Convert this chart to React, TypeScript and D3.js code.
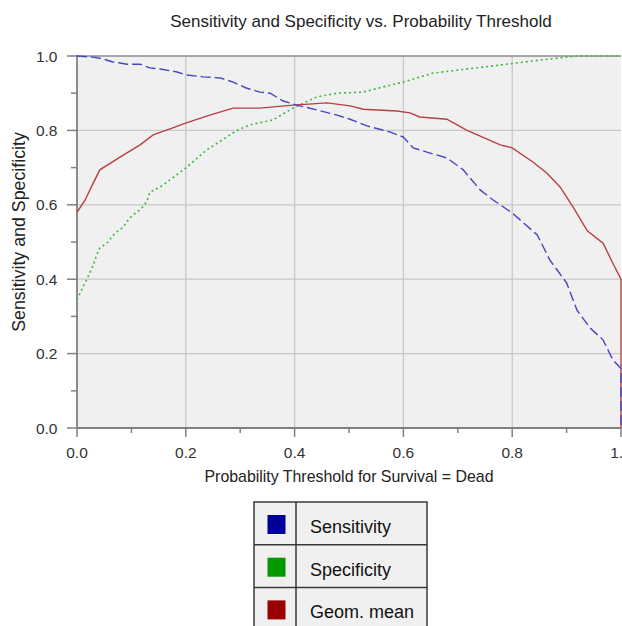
import React from "react";
import * as d3 from "d3";

const title = "Sensitivity and Specificity vs. Probability Threshold";
const xTitle = "Probability Threshold for Survival = Dead";
const yTitle = "Sensitivity and Specificity";
const tickLabels = ["0.0", "0.2", "0.4", "0.6", "0.8", "1.0"];
const majorTicks = [0, 0.2, 0.4, 0.6, 0.8, 1.0];
const minorTicks = [0.1, 0.3, 0.5, 0.7, 0.9];

const sensT = [0, 0.03, 0.048, 0.066, 0.092, 0.116, 0.134, 0.153, 0.184, 0.201, 0.232, 0.263, 0.287, 0.311, 0.336, 0.355, 0.379, 0.404, 0.441, 0.478, 0.502, 0.533, 0.575, 0.6, 0.618, 0.649, 0.68, 0.71, 0.741, 0.765, 0.8, 0.846, 0.869, 0.9, 0.919, 0.943, 0.967, 0.985, 1.0, 1.0];
const sensV = [1.0, 0.997, 0.992, 0.984, 0.978, 0.978, 0.968, 0.965, 0.957, 0.949, 0.944, 0.941, 0.93, 0.914, 0.903, 0.9, 0.879, 0.868, 0.855, 0.841, 0.83, 0.812, 0.796, 0.782, 0.753, 0.739, 0.726, 0.694, 0.64, 0.613, 0.578, 0.519, 0.452, 0.39, 0.317, 0.269, 0.237, 0.183, 0.16, 0];

const specT = [0, 0.011, 0.02, 0.03, 0.036, 0.042, 0.055, 0.07, 0.085, 0.097, 0.119, 0.128, 0.134, 0.153, 0.171, 0.201, 0.238, 0.294, 0.318, 0.36, 0.397, 0.441, 0.478, 0.526, 0.563, 0.6, 0.654, 0.746, 0.851, 0.919, 1.0];
const specV = [0.345, 0.379, 0.406, 0.438, 0.465, 0.484, 0.497, 0.524, 0.54, 0.565, 0.591, 0.608, 0.634, 0.648, 0.667, 0.70, 0.747, 0.80, 0.815, 0.828, 0.86, 0.89, 0.9, 0.903, 0.917, 0.93, 0.954, 0.97, 0.989, 1.0, 1.0];

const geomT = [0, 0.015, 0.03, 0.042, 0.079, 0.116, 0.14, 0.171, 0.201, 0.244, 0.287, 0.336, 0.397, 0.46, 0.502, 0.526, 0.588, 0.612, 0.63, 0.68, 0.716, 0.778, 0.8, 0.838, 0.864, 0.888, 0.912, 0.938, 0.967, 0.985, 1.0, 1.0];
const geomV = [0.58, 0.613, 0.659, 0.694, 0.728, 0.761, 0.788, 0.804, 0.82, 0.841, 0.86, 0.86, 0.868, 0.874, 0.866, 0.857, 0.852, 0.847, 0.836, 0.83, 0.801, 0.761, 0.753, 0.715, 0.685, 0.648, 0.594, 0.53, 0.497, 0.443, 0.40, 0];

const legendNames = ["Sensitivity", "Specificity", "Geom. mean"];
const legendColors = ["#000099", "#009900", "#990000"];

const W = 622;
const H = 626;
const left = 77;
const right = 621;
const top = 56;
const bottom = 428;
const font = "'Liberation Sans', Arial, sans-serif";

export default function App() {
  const x = d3.scaleLinear().domain([0, 1]).range([left, right]);
  const y = d3.scaleLinear().domain([0, 1]).range([bottom, top]);
  const line = d3
    .line<[number, number]>()
    .x((d) => x(d[0]))
    .y((d) => y(d[1]));
  const zip = (a: number[], b: number[]) => a.map((t, i) => [t, b[i]] as [number, number]);

  const series = [
    { d: zip(specT, specV), color: "#3fb83f", dash: "2,3", w: 1.6 },
    { d: zip(geomT, geomV), color: "#b84040", dash: undefined, w: 1.4 },
    { d: zip(sensT, sensV), color: "#4646c0", dash: "10,4", w: 1.4 },
  ];

  const legX = 254;
  const legDiv = 296;
  const legR = 427;
  const legTop = 502;
  const rowH = 42.7;

  return (
    <div style={{ position: "absolute", left: 0, top: 0 }}>
      <svg width={W} height={H} style={{ display: "block", background: "#ffffff" }}>
        <rect x={left} y={top} width={right - left} height={bottom - top} fill="#f0f0f0" />
        {majorTicks.slice(1, 5).map((t) => (
          <line key={"gx" + t} x1={x(t)} x2={x(t)} y1={top} y2={bottom} stroke="#c8c8c8" strokeWidth={1.3} />
        ))}
        {majorTicks.slice(1, 5).map((t) => (
          <line key={"gy" + t} x1={left} x2={right} y1={y(t)} y2={y(t)} stroke="#c8c8c8" strokeWidth={1.3} />
        ))}
        <line x1={left} x2={right} y1={top} y2={top} stroke="#8c8c8c" strokeWidth={1.5} />
        <line x1={left} x2={left} y1={top - 1} y2={bottom} stroke="#808080" strokeWidth={1.8} />
        <line x1={left} x2={right} y1={bottom} y2={bottom} stroke="#808080" strokeWidth={1.8} />
        {majorTicks.map((t) => (
          <g key={"mt" + t}>
            <line x1={left - 10} x2={left} y1={y(t)} y2={y(t)} stroke="#808080" strokeWidth={1.5} />
            <line x1={x(t)} x2={x(t)} y1={bottom} y2={bottom + 9} stroke="#808080" strokeWidth={1.5} />
          </g>
        ))}
        {minorTicks.map((t) => (
          <g key={"mn" + t}>
            <line x1={left - 6} x2={left} y1={y(t)} y2={y(t)} stroke="#808080" strokeWidth={1.5} />
            <line x1={x(t)} x2={x(t)} y1={bottom} y2={bottom + 5} stroke="#808080" strokeWidth={1.5} />
          </g>
        ))}
        {majorTicks.map((t, i) => (
          <text key={"yl" + t} x={57.5} y={y(t) + 5.5} textAnchor="end" fontFamily={font} fontSize={15.5} fill="#333">
            {tickLabels[i]}
          </text>
        ))}
        {majorTicks.map((t, i) => (
          <text key={"xl" + t} x={x(t)} y={458} textAnchor="middle" fontFamily={font} fontSize={15.5} fill="#333">
            {tickLabels[i]}
          </text>
        ))}
        {series.map((s, i) => (
          <path
            key={"s" + i}
            d={line(s.d) || ""}
            fill="none"
            stroke={s.color}
            strokeWidth={s.w}
            strokeDasharray={s.dash}
          />
        ))}
        <text x={361} y={27} textAnchor="middle" fontFamily={font} fontSize={17} fill="#222">
          {title}
        </text>
        <text x={349} y={482} textAnchor="middle" fontFamily={font} fontSize={15.9} fill="#222">
          {xTitle}
        </text>
        <text
          transform={`translate(25, 232) rotate(-90)`}
          textAnchor="middle"
          fontFamily={font}
          fontSize={17.8}
          fill="#222"
        >
          {yTitle}
        </text>
        <rect x={legX} y={legTop} width={legR - legX} height={H - legTop + 10} fill="#f0f0f0" stroke="#3a3a3a" strokeWidth={1.5} />
        <line x1={legDiv} x2={legDiv} y1={legTop} y2={H} stroke="#3a3a3a" strokeWidth={1.5} />
        {legendNames.map((n, i) => (
          <g key={"lg" + n}>
            {i > 0 && (
              <line x1={legX} x2={legR} y1={legTop + rowH * i} y2={legTop + rowH * i} stroke="#3a3a3a" strokeWidth={1.5} />
            )}
            <rect x={267.5} y={legTop + rowH * i + 13} width={18} height={19} fill={legendColors[i]} />
            <text x={310} y={legTop + rowH * i + 31} fontFamily={font} fontSize={18} fill="#111">
              {n}
            </text>
          </g>
        ))}
      </svg>
    </div>
  );
}
